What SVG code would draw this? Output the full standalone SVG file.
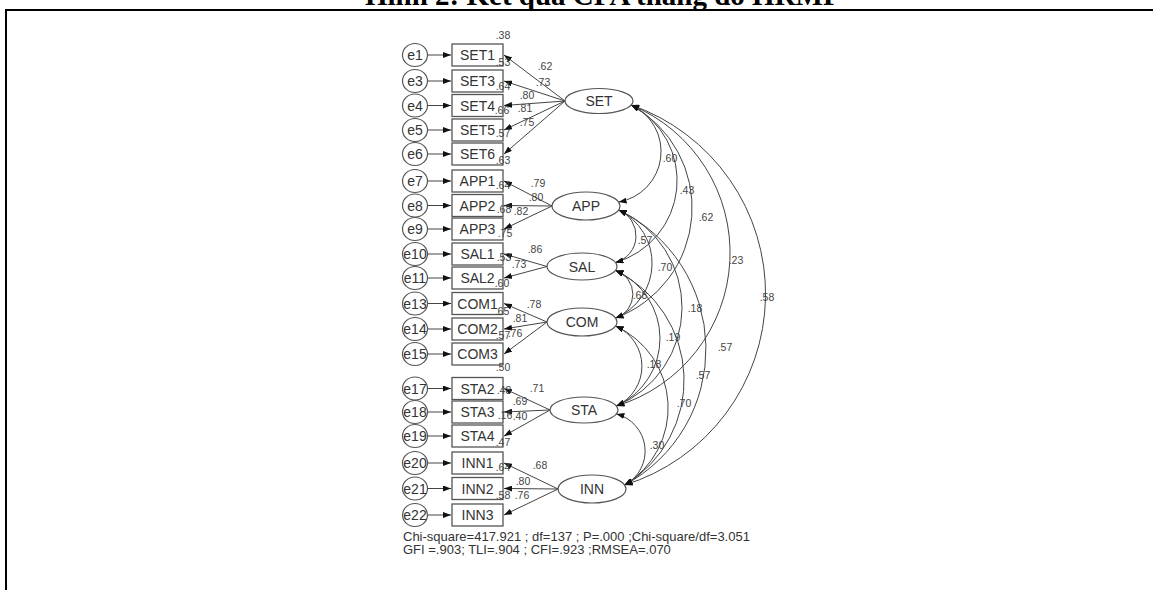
<svg xmlns="http://www.w3.org/2000/svg" width="1153" height="590" viewBox="0 0 1153 590">
<style>
.title{font-family:"Liberation Serif","Times New Roman",serif;font-weight:bold;font-size:29px;fill:#000}
.err ellipse{fill:#fff;stroke:#555;stroke-width:1.2}
.err text,.obs text,.lat text{font-family:"Liberation Sans",Arial,sans-serif;fill:#333;text-anchor:middle}
.err text{font-size:14px}
.obs rect{fill:#fff;stroke:#555;stroke-width:1.3}
.obs text{font-size:14px}
.lat ellipse{fill:#fff;stroke:#555;stroke-width:1.2}
.lat text{font-size:14px}
.conn line,.conn path{fill:none;stroke:#444;stroke-width:1}
.ea{marker-end:url(#ah)}
.cov{marker-start:url(#ah);marker-end:url(#ah)}
.num{font-family:"Liberation Sans",Arial,sans-serif;font-size:10.5px;fill:#444;text-anchor:middle}
.fit{font-family:"Liberation Sans",Arial,sans-serif;font-size:13px;fill:#333}
</style>
<defs>
<marker id="ah" viewBox="0 0 8 6" refX="8" refY="3" markerWidth="8" markerHeight="6" markerUnits="userSpaceOnUse" orient="auto-start-reverse">
<path d="M0,0 L8,3 L0,6 z" fill="#111"/>
</marker>
</defs>
<rect width="1153" height="590" fill="#fff"/>
<text class="title" x="365" y="5">Hình 2: Kết quả CFA thang đo HRMP</text>
<line x1="5" y1="10" x2="1153" y2="10" stroke="#000" stroke-width="2"/>
<line x1="6" y1="9" x2="6" y2="590" stroke="#000" stroke-width="2"/>

<g id="connectors" class="conn">
<!-- error arrows -->
<line class="ea" x1="427.5" y1="55" x2="451" y2="55"/>
<line class="ea" x1="427.5" y1="81" x2="451" y2="81"/>
<line class="ea" x1="427.5" y1="105.5" x2="451" y2="105.5"/>
<line class="ea" x1="427.5" y1="130" x2="451" y2="130"/>
<line class="ea" x1="427.5" y1="154" x2="451" y2="154"/>
<line class="ea" x1="427.5" y1="181" x2="451" y2="181"/>
<line class="ea" x1="427.5" y1="205.5" x2="451" y2="205.5"/>
<line class="ea" x1="427.5" y1="229" x2="451" y2="229"/>
<line class="ea" x1="427.5" y1="254" x2="451" y2="254"/>
<line class="ea" x1="427.5" y1="278" x2="451" y2="278"/>
<line class="ea" x1="427.5" y1="303.5" x2="451" y2="303.5"/>
<line class="ea" x1="427.5" y1="329" x2="451" y2="329"/>
<line class="ea" x1="427.5" y1="354" x2="451" y2="354"/>
<line class="ea" x1="427.5" y1="388.5" x2="451" y2="388.5"/>
<line class="ea" x1="427.5" y1="412" x2="451" y2="412"/>
<line class="ea" x1="427.5" y1="436" x2="451" y2="436"/>
<line class="ea" x1="427.5" y1="463" x2="451" y2="463"/>
<line class="ea" x1="427.5" y1="488.5" x2="451" y2="488.5"/>
<line class="ea" x1="427.5" y1="515" x2="451" y2="515"/>
<!-- loadings -->
<line class="ea" x1="565" y1="101" x2="504" y2="55"/>
<line class="ea" x1="565" y1="101" x2="504" y2="81"/>
<line class="ea" x1="565" y1="101" x2="504" y2="105.5"/>
<line class="ea" x1="565" y1="101" x2="504" y2="130"/>
<line class="ea" x1="565" y1="101" x2="504" y2="154"/>
<line class="ea" x1="552" y1="206" x2="504" y2="181"/>
<line class="ea" x1="552" y1="206" x2="504" y2="205.5"/>
<line class="ea" x1="552" y1="206" x2="504" y2="229"/>
<line class="ea" x1="547" y1="266.5" x2="504" y2="254"/>
<line class="ea" x1="547" y1="266.5" x2="504" y2="278"/>
<line class="ea" x1="547" y1="322" x2="504" y2="303.5"/>
<line class="ea" x1="547" y1="322" x2="504" y2="329"/>
<line class="ea" x1="547" y1="322" x2="504" y2="354"/>
<line class="ea" x1="550" y1="410" x2="504" y2="388.5"/>
<line class="ea" x1="550" y1="410" x2="504" y2="412"/>
<line class="ea" x1="550" y1="410" x2="504" y2="436"/>
<line class="ea" x1="558" y1="489" x2="504" y2="463"/>
<line class="ea" x1="558" y1="489" x2="504" y2="488.5"/>
<line class="ea" x1="558" y1="489" x2="504" y2="515"/>
<!-- covariances -->
<path class="cov" d="M631.2,105 A51.2,51.2 0 0 1 618.6,202"/>
<path class="cov" d="M631.2,105 A85.2,85.2 0 0 1 615.4,262.5"/>
<path class="cov" d="M631.2,105 A117.4,117.4 0 0 1 615.5,318"/>
<path class="cov" d="M631.2,105 A160,160 0 0 1 616.4,406"/>
<path class="cov" d="M631.2,105 A200,200 0 0 1 624.6,485"/>
<path class="cov" d="M618.6,210 A27.7,27.7 0 0 1 615.4,262.5"/>
<path class="cov" d="M618.6,210 A59.2,59.2 0 0 1 615.5,318"/>
<path class="cov" d="M618.6,210 A106.7,106.7 0 0 1 616.4,406"/>
<path class="cov" d="M618.6,210 A154.3,154.3 0 0 1 624.6,485"/>
<path class="cov" d="M615.4,270.5 A24.9,24.9 0 0 1 615.5,318"/>
<path class="cov" d="M615.4,270.5 A74.1,74.1 0 0 1 616.4,406"/>
<path class="cov" d="M615.4,270.5 A122,122 0 0 1 624.6,485"/>
<path class="cov" d="M615.5,326 A43.8,43.8 0 0 1 616.4,406"/>
<path class="cov" d="M615.5,326 A90.05,90.05 0 0 1 624.6,485"/>
<path class="cov" d="M616.4,414 A38.3,38.3 0 0 1 624.6,485"/>
</g>

<g id="errors" class="err">
<g id="e1"><ellipse cx="415" cy="55" rx="12.5" ry="11.5"/><text x="415" y="60">e1</text></g>
<g id="e3"><ellipse cx="415" cy="81" rx="12.5" ry="11.5"/><text x="415" y="86">e3</text></g>
<g id="e4"><ellipse cx="415" cy="105.5" rx="12.5" ry="11.5"/><text x="415" y="110.5">e4</text></g>
<g id="e5"><ellipse cx="415" cy="130" rx="12.5" ry="11.5"/><text x="415" y="135">e5</text></g>
<g id="e6"><ellipse cx="415" cy="154" rx="12.5" ry="11.5"/><text x="415" y="159">e6</text></g>
<g id="e7"><ellipse cx="415" cy="181" rx="12.5" ry="11.5"/><text x="415" y="186">e7</text></g>
<g id="e8"><ellipse cx="415" cy="205.5" rx="12.5" ry="11.5"/><text x="415" y="210.5">e8</text></g>
<g id="e9"><ellipse cx="415" cy="229" rx="12.5" ry="11.5"/><text x="415" y="234">e9</text></g>
<g id="e10"><ellipse cx="415" cy="254" rx="12.5" ry="11.5"/><text x="415" y="259">e10</text></g>
<g id="e11"><ellipse cx="415" cy="278" rx="12.5" ry="11.5"/><text x="415" y="283">e11</text></g>
<g id="e13"><ellipse cx="415" cy="303.5" rx="12.5" ry="11.5"/><text x="415" y="308.5">e13</text></g>
<g id="e14"><ellipse cx="415" cy="329" rx="12.5" ry="11.5"/><text x="415" y="334">e14</text></g>
<g id="e15"><ellipse cx="415" cy="354" rx="12.5" ry="11.5"/><text x="415" y="359">e15</text></g>
<g id="e17"><ellipse cx="415" cy="388.5" rx="12.5" ry="11.5"/><text x="415" y="393.5">e17</text></g>
<g id="e18"><ellipse cx="415" cy="412" rx="12.5" ry="11.5"/><text x="415" y="417">e18</text></g>
<g id="e19"><ellipse cx="415" cy="436" rx="12.5" ry="11.5"/><text x="415" y="441">e19</text></g>
<g id="e20"><ellipse cx="415" cy="463" rx="12.5" ry="11.5"/><text x="415" y="468">e20</text></g>
<g id="e21"><ellipse cx="415" cy="488.5" rx="12.5" ry="11.5"/><text x="415" y="493.5">e21</text></g>
<g id="e22"><ellipse cx="415" cy="515" rx="12.5" ry="11.5"/><text x="415" y="520">e22</text></g>
</g>

<g id="observed" class="obs">
<g id="SET1"><rect x="452" y="44" width="51" height="22"/><text x="477.5" y="60">SET1</text></g>
<g id="SET3"><rect x="452" y="70" width="51" height="22"/><text x="477.5" y="86">SET3</text></g>
<g id="SET4"><rect x="452" y="94.5" width="51" height="22"/><text x="477.5" y="110.5">SET4</text></g>
<g id="SET5"><rect x="452" y="119" width="51" height="22"/><text x="477.5" y="135">SET5</text></g>
<g id="SET6"><rect x="452" y="143" width="51" height="22"/><text x="477.5" y="159">SET6</text></g>
<g id="APP1"><rect x="452" y="170" width="51" height="22"/><text x="477.5" y="186">APP1</text></g>
<g id="APP2"><rect x="452" y="194.5" width="51" height="22"/><text x="477.5" y="210.5">APP2</text></g>
<g id="APP3"><rect x="452" y="218" width="51" height="22"/><text x="477.5" y="234">APP3</text></g>
<g id="SAL1"><rect x="452" y="243" width="51" height="22"/><text x="477.5" y="259">SAL1</text></g>
<g id="SAL2"><rect x="452" y="267" width="51" height="22"/><text x="477.5" y="283">SAL2</text></g>
<g id="COM1"><rect x="452" y="292.5" width="51" height="22"/><text x="477.5" y="308.5">COM1</text></g>
<g id="COM2"><rect x="452" y="318" width="51" height="22"/><text x="477.5" y="334">COM2</text></g>
<g id="COM3"><rect x="452" y="343" width="51" height="22"/><text x="477.5" y="359">COM3</text></g>
<g id="STA2"><rect x="452" y="377.5" width="51" height="22"/><text x="477.5" y="393.5">STA2</text></g>
<g id="STA3"><rect x="452" y="401" width="51" height="22"/><text x="477.5" y="417">STA3</text></g>
<g id="STA4"><rect x="452" y="425" width="51" height="22"/><text x="477.5" y="441">STA4</text></g>
<g id="INN1"><rect x="452" y="452" width="51" height="22"/><text x="477.5" y="468">INN1</text></g>
<g id="INN2"><rect x="452" y="477.5" width="51" height="22"/><text x="477.5" y="493.5">INN2</text></g>
<g id="INN3"><rect x="452" y="504" width="51" height="22"/><text x="477.5" y="520">INN3</text></g>
</g>

<g id="latents" class="lat">
<g id="SET"><ellipse cx="599" cy="101" rx="34" ry="12.5"/><text x="599" y="106">SET</text></g>
<g id="APP"><ellipse cx="586" cy="206" rx="34" ry="14"/><text x="586" y="211">APP</text></g>
<g id="SAL"><ellipse cx="582" cy="266.5" rx="35" ry="13.5"/><text x="582" y="271.5">SAL</text></g>
<g id="COM"><ellipse cx="582" cy="322" rx="35" ry="14"/><text x="582" y="327">COM</text></g>
<g id="STA"><ellipse cx="584" cy="410" rx="34" ry="13"/><text x="584" y="415">STA</text></g>
<g id="INN"><ellipse cx="592" cy="489" rx="34" ry="14"/><text x="592" y="494">INN</text></g>
</g>

<g id="estimates">
<!-- R squared -->
<text class="num" x="503" y="39">.38</text>
<text class="num" x="503" y="66">.53</text>
<text class="num" x="503" y="90">.64</text>
<text class="num" x="502" y="114">.66</text>
<text class="num" x="503" y="137">.57</text>
<text class="num" x="503" y="164">.63</text>
<text class="num" x="503" y="189">.64</text>
<text class="num" x="504" y="213">.68</text>
<text class="num" x="505" y="237">.75</text>
<text class="num" x="504" y="261">.53</text>
<text class="num" x="502" y="286.5">.60</text>
<text class="num" x="502" y="314.5">.65</text>
<text class="num" x="503" y="339">.57</text>
<text class="num" x="503" y="370.5">.50</text>
<text class="num" x="504" y="394">.48</text>
<text class="num" x="505" y="419">.16</text>
<text class="num" x="503" y="445.5">.47</text>
<text class="num" x="503" y="471">.64</text>
<text class="num" x="503" y="499">.58</text>
<!-- loadings -->
<text class="num" x="545" y="69.5">.62</text>
<text class="num" x="543" y="85.5">.73</text>
<text class="num" x="527" y="99">.80</text>
<text class="num" x="525" y="111.5">.81</text>
<text class="num" x="527" y="126">.75</text>
<text class="num" x="538" y="187">.79</text>
<text class="num" x="536" y="200.5">.80</text>
<text class="num" x="521" y="214.5">.82</text>
<text class="num" x="535" y="253">.86</text>
<text class="num" x="519" y="268">.73</text>
<text class="num" x="534" y="308">.78</text>
<text class="num" x="520" y="322">.81</text>
<text class="num" x="515" y="337">.76</text>
<text class="num" x="537" y="392">.71</text>
<text class="num" x="520" y="404.5">.69</text>
<text class="num" x="520" y="419.5">.40</text>
<text class="num" x="540" y="469">.68</text>
<text class="num" x="523" y="484.5">.80</text>
<text class="num" x="522" y="499">.76</text>
<!-- covariances -->
<text class="num" x="670" y="162">.60</text>
<text class="num" x="687" y="194">.43</text>
<text class="num" x="706" y="221">.62</text>
<text class="num" x="736" y="264">.23</text>
<text class="num" x="767" y="300.5">.58</text>
<text class="num" x="645" y="244">.57</text>
<text class="num" x="665" y="270.5">.70</text>
<text class="num" x="695" y="312">.18</text>
<text class="num" x="725" y="350.5">.57</text>
<text class="num" x="640" y="299">.68</text>
<text class="num" x="673" y="340.5">.19</text>
<text class="num" x="703" y="379">.57</text>
<text class="num" x="654" y="368">.18</text>
<text class="num" x="684" y="406.5">.70</text>
<text class="num" x="657" y="449">.30</text>
</g>

<g id="fit">
<text class="fit" x="403" y="541">Chi-square=417.921 ; df=137 ; P=.000 ;Chi-square/df=3.051</text>
<text class="fit" x="403" y="554">GFI =.903; TLI=.904 ; CFI=.923 ;RMSEA=.070</text>
</g>
</svg>
